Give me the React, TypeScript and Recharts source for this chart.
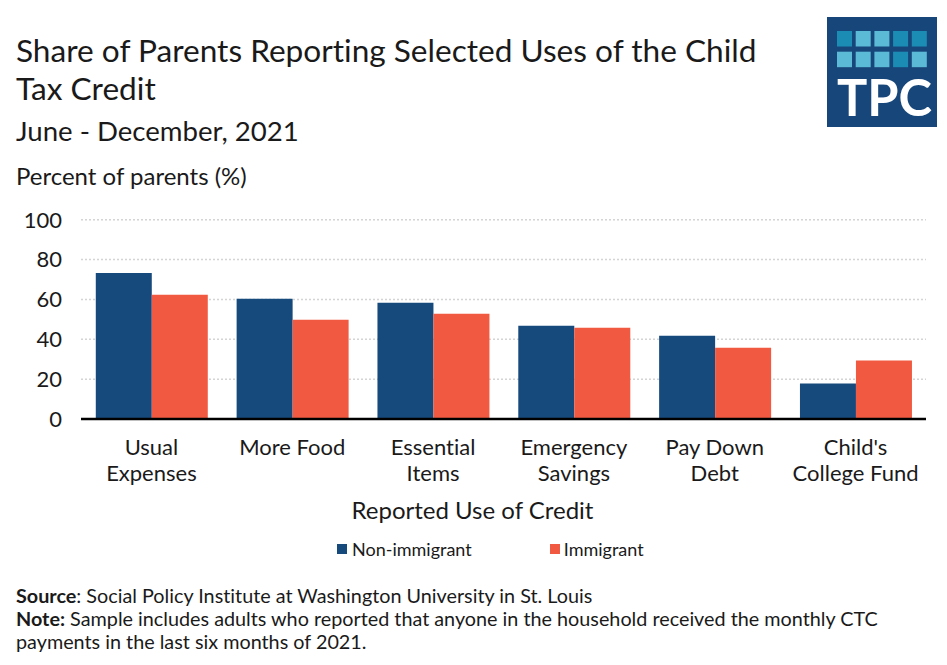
import React from "react";
import { BarChart, Bar, XAxis, YAxis, CartesianGrid } from "recharts";

const categories = [
  "Usual Expenses",
  "More Food",
  "Essential Items",
  "Emergency Savings",
  "Pay Down Debt",
  "Child's College Fund",
];
const tickLines: string[][] = [
  ["Usual", "Expenses"],
  ["More Food"],
  ["Essential", "Items"],
  ["Emergency", "Savings"],
  ["Pay Down", "Debt"],
  ["Child's", "College Fund"],
];
const nonImmigrant = [73.3, 60.3, 58.3, 46.8, 41.8, 17.8];
const immigrant = [62.3, 49.8, 52.8, 45.8, 35.8, 29.3];
const yTicks = [0, 20, 40, 60, 80, 100];

const data = categories.map((c, i) => ({
  name: c,
  nonImmigrant: nonImmigrant[i],
  immigrant: immigrant[i],
}));

const BLUE = "#174A7C";
const ORANGE = "#F15A40";
const FONT = "Lato, 'Noto Sans', sans-serif";

const XTick = (props: any) => {
  const { x, y, payload } = props;
  const lines = tickLines[payload.index] || [payload.value];
  return (
    <text x={x} y={y} textAnchor="middle" fontFamily={FONT} fontSize={22} fill="#1a1a1a">
      {lines.map((l, i) => (
        <tspan key={i} x={x} dy={i === 0 ? 28 : 26}>
          {l}
        </tspan>
      ))}
    </text>
  );
};

const Logo = () => {
  const colors = ["#1B8DB5", "#5BBAD6", "#5BBAD6", "#1B8DB5", "#1B8DB5", "#5BBAD6", "#5BBAD6", "#5BBAD6", "#1B8DB5", "#5BBAD6"];
  return (
    <svg width={110} height={110} style={{ position: "absolute", left: 827, top: 17 }}>
      <rect x={0} y={0} width={110} height={110} fill="#17477A" />
      {colors.map((c, i) => {
        const col = i % 5;
        const row = Math.floor(i / 5);
        return <rect key={i} x={10 + col * 18.7} y={14 + row * 20.7} width={15} height={15.5} fill={c} />;
      })}
      <text
        x={10}
        y={99}
        fontFamily={FONT}
        fontWeight={700}
        fontSize={52}
        fill="#fff"
        textLength={95}
        lengthAdjust="spacingAndGlyphs"
      >
        TPC
      </text>
    </svg>
  );
};

export default function App() {
  return (
    <div
      style={{
        position: "absolute",
        left: 0,
        top: 0,
        width: 947,
        height: 665,
        background: "#fff",
        fontFamily: FONT,
        color: "#1a1a1a",
        overflow: "hidden",
        fontVariantLigatures: "none",
      }}
    >
      <div style={{ position: "absolute", left: 16, top: 31, fontSize: 31.6, lineHeight: "38px", width: 820, whiteSpace: "nowrap" }}>
        Share of Parents Reporting Selected Uses of the Child
        <br />
        Tax Credit
      </div>
      <div style={{ position: "absolute", left: 16, top: 115, fontSize: 27.6, lineHeight: "32px" }}>
        June - December, 2021
      </div>
      <div style={{ position: "absolute", left: 16, top: 162, fontSize: 24, lineHeight: "28px" }}>
        Percent of parents (%)
      </div>
      <Logo />
      <div style={{ position: "absolute", left: 0, top: 0 }}>
        <BarChart
          width={947}
          height={665}
          data={data}
          margin={{ top: 219.7, right: 21, bottom: 216, left: 21 }}
          barCategoryGap="10.5%"
          barGap={0}
        >
          <CartesianGrid vertical={false} stroke="#d4d4d4" strokeDasharray="2 2" strokeWidth={1.5} />
          <YAxis
            width={60}
            domain={[0, 100]}
            ticks={yTicks}
            axisLine={false}
            tickLine={false}
            tickSize={0}
            tickMargin={19}
            tick={{ fontFamily: FONT, fontSize: 22, fill: "#1a1a1a" }}
            interval={0}
          />
          <XAxis
            dataKey="name"
            height={30}
            axisLine={{ stroke: "#000", strokeWidth: 2.5 }}
            tickLine={false}
            tick={<XTick />}
            interval={0}
          />
          <Bar dataKey="nonImmigrant" fill={BLUE} isAnimationActive={false} />
          <Bar dataKey="immigrant" fill={ORANGE} isAnimationActive={false} />
        </BarChart>
      </div>
      <div style={{ position: "absolute", left: 0, width: 945, textAlign: "center", top: 495, fontSize: 24, lineHeight: "30px" }}>
        Reported Use of Credit
      </div>
      <div style={{ position: "absolute", top: 538, left: 337, fontSize: 18, lineHeight: "22px", display: "flex", alignItems: "center" }}>
        <span style={{ display: "inline-block", width: 10, height: 10, background: BLUE, marginRight: 5 }} />
        <span>Non-immigrant</span>
        <span style={{ display: "inline-block", width: 10, height: 10, background: ORANGE, marginLeft: 78, marginRight: 4 }} />
        <span>Immigrant</span>
      </div>
      <div style={{ position: "absolute", left: 16, top: 584, fontSize: 19.8, lineHeight: "23px", width: 930, whiteSpace: "nowrap" }}>
        <div>
          <b>Source</b>: Social Policy Institute at Washington University in St. Louis
        </div>
        <div>
          <b>Note:</b> Sample includes adults who reported that anyone in the household received the monthly CTC
        </div>
        <div>payments in the last six months of 2021.</div>
      </div>
    </div>
  );
}
